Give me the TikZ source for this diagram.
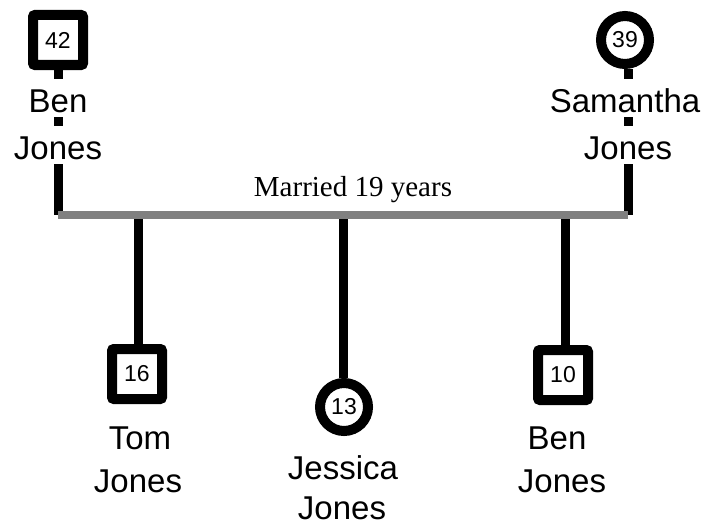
\documentclass[tikz,border=0pt]{standalone}
\usepackage{fontspec}
\setmainfont{Liberation Sans}
\newfontfamily\marriedfont{Liberation Serif}

\tikzset{
  malebox/.style={draw, line width=10pt, rounded corners=2pt, minimum size=50pt,
    inner sep=0pt, fill=white, font=\fontsize{23}{23}\selectfont},
  femalebox/.style={draw, circle, line width=10pt, minimum size=48pt,
    inner sep=0pt, fill=white, font=\fontsize{23}{23}\selectfont},
  personname/.style={fill=white, anchor=base, inner xsep=1pt, inner ysep=0pt,
    text height=33pt, text depth=5pt, font=\fontsize{33}{33}\selectfont},
  stem/.style={line width=9pt},
  marriage/.style={line width=8pt, draw=gray}
}

\begin{document}
\begin{tikzpicture}[x=1pt, y=-1pt]
\useasboundingbox (0,0) rectangle (709,527);

\node[malebox] (father) at (58,40) {42};
\node[femalebox] (mother) at (625,40) {39};

\node[malebox] (tom) at (137,374) {16};
\node[femalebox] (jessica) at (344,407) {13};
\node[malebox] (ben) at (563,375) {10};

\coordinate (fjoin) at (58,215);
\coordinate (mjoin) at (628,215);
\coordinate (tjoin) at (138,215);
\coordinate (jjoin) at (343,215);
\coordinate (bjoin) at (565,215);

% parents down to the marriage line
\path[draw,stem] (father) -- (fjoin);
\path[draw,stem] (mother.south -| mjoin) -- (mjoin);

% children hang below it
\path[draw,stem] (tjoin) -- (tjoin |- tom.north);
\path[draw,stem] (jjoin) -- (jjoin |- jessica.north);
\path[draw,stem] (bjoin) -- (bjoin |- ben.north);

\path[marriage] (fjoin) -- (mjoin);
\node[anchor=base, font=\marriedfont\fontsize{29}{29}\selectfont] (married) at (353,196) {Married 19 years};

\node[personname] (fatherfirst) at (58,112) {Ben};
\node[personname] (fatherlast) at (58,159) {Jones};
\node[personname] (motherfirst) at (625,112) {Samantha};
\node[personname] (motherlast) at (628,159) {Jones};

\node[personname] (tomfirst) at (140,449) {Tom};
\node[personname] (tomlast) at (138,492) {Jones};
\node[personname] (jessicafirst) at (343,479) {Jessica};
\node[personname] (jessicalast) at (342,519) {Jones};
\node[personname] (benfirst) at (557,449) {Ben};
\node[personname] (benlast) at (562,492) {Jones};
\end{tikzpicture}
\end{document}
